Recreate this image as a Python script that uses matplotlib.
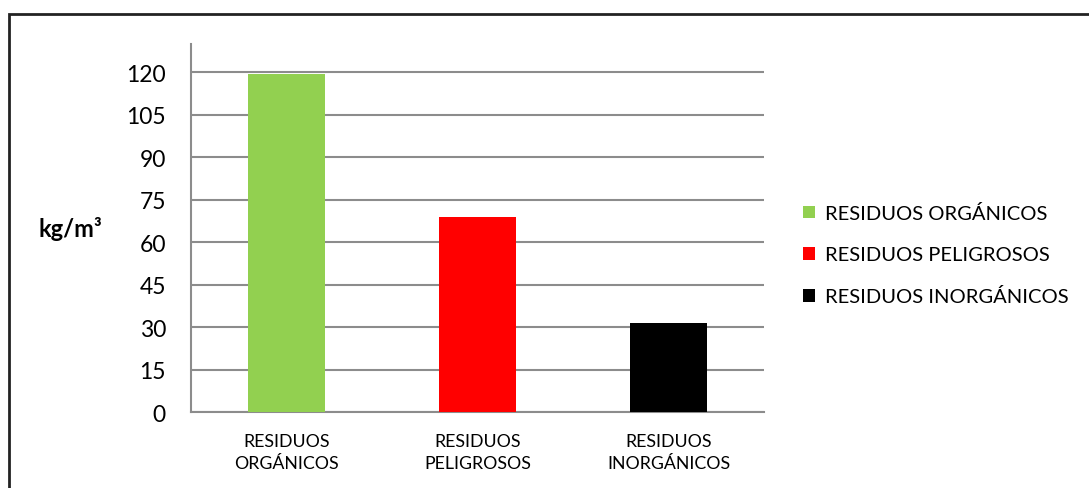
import matplotlib.pyplot as plt
from matplotlib.patches import Rectangle, Patch

plt.rcParams['font.family'] = ['Lato', 'DejaVu Sans']

categories = ["RESIDUOS\nORGÁNICOS", "RESIDUOS\nPELIGROSOS", "RESIDUOS\nINORGÁNICOS"]
legend_labels = ["RESIDUOS ORGÁNICOS", "RESIDUOS PELIGROSOS", "RESIDUOS INORGÁNICOS"]
values = [119.3, 68.8, 31.4]
colors = ["#92d050", "#ff0000", "#000000"]
yticks = [0, 15, 30, 45, 60, 75, 90, 105, 120]

fig = plt.figure(figsize=(10.89, 4.89), dpi=100)
ax = fig.add_axes([191 / 1089, 1 - 413 / 489, (764 - 191) / 1089, (413 - 45) / 489])

x = range(len(categories))
ax.bar(x, values, width=0.4, color=colors, zorder=3)

ax.set_xlim(-0.5, 2.5)
ax.set_ylim(0, 130)
ax.set_yticks(yticks)
ax.set_xticks(list(x))
ax.set_xticklabels(categories, fontsize=12.8, linespacing=1.45)
ax.tick_params(axis='y', length=0, labelsize=16.5, pad=18)
ax.tick_params(axis='x', length=0, pad=15)

ax.grid(axis='y', color='#8c8c8c', linewidth=1.5, zorder=0)
for s in ["top", "right"]:
    ax.spines[s].set_visible(False)
for s in ["left", "bottom"]:
    ax.spines[s].set_color('#8c8c8c')
    ax.spines[s].set_linewidth(1.5)

fig.text(70 / 1089, 1 - 229 / 489, "kg/m³", fontsize=17, fontweight='bold',
         ha='center', va='center')

handles = [Patch(facecolor=c, edgecolor='none') for c in colors]
fig.legend(handles, legend_labels, loc='upper left',
           bbox_to_anchor=(785 / 1089, 1 - 187 / 489), frameon=False,
           fontsize=14.5, handlelength=0.6, handleheight=0.6,
           handletextpad=0.5, labelspacing=1.2)

# outer chart frame
fig.patches.append(Rectangle((9 / 1089, -0.1), 1.2, 1 - 15 / 489 + 0.1,
                             transform=fig.transFigure, fill=False,
                             edgecolor='#222222', linewidth=2))

fig.savefig("out.png", dpi=100)
